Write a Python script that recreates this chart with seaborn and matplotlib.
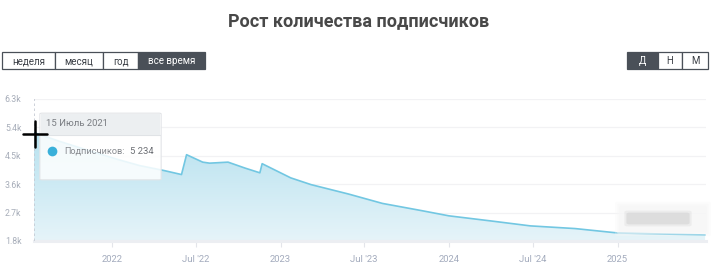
import numpy as np
import pandas as pd
import matplotlib
matplotlib.use("Agg")
import matplotlib.pyplot as plt
import matplotlib.dates as mdates
from matplotlib.patches import Rectangle, FancyBboxPatch
from matplotlib.lines import Line2D
import seaborn as sns

# ---------------- data ----------------
dates = ["2021-07-15", "2021-09-08", "2021-11-12", "2022-01-16", "2022-03-01",
         "2022-04-24", "2022-05-31", "2022-06-11", "2022-07-16", "2022-07-31",
         "2022-09-09", "2022-10-16", "2022-11-17", "2022-11-22", "2023-01-01",
         "2023-01-23", "2023-03-08", "2023-05-28", "2023-08-10", "2023-11-05",
         "2024-01-01", "2024-03-31", "2024-06-26", "2024-10-01", "2025-01-01",
         "2025-07-10"]
subscribers = [5234, 4960, 4660, 4370, 4190,
               4030, 3906, 4535, 4299, 4267,
               4299, 4110, 3961, 4250, 3960,
               3801, 3587, 3290, 2991, 2757,
               2598, 2438, 2279, 2194, 2055,
               1991]
y_ticks = [1800, 2700, 3600, 4500, 5400, 6300]
y_tick_labels = ["1.8k", "2.7k", "3.6k", "4.5k", "5.4k", "6.3k"]
x_ticks = ["2022-01-01", "2022-07-01", "2023-01-01", "2023-07-01",
           "2024-01-01", "2024-07-01", "2025-01-01"]
x_tick_labels = ["2022", "Jul '22", "2023", "Jul '23", "2024", "Jul '24", "2025"]
title = "Рост количества подписчиков"
range_buttons = ["неделя", "месяц", "год", "все время"]
period_buttons = ["Д", "Н", "М"]
tooltip_date = "15 Июль 2021"
tooltip_label = "Подписчиков:"
tooltip_value = "5 234"

df = pd.DataFrame({"date": pd.to_datetime(dates), "value": subscribers})

# ---------------- figure ----------------
sns.set_theme(style="white")
FONT = ["Roboto", "DejaVu Sans"]
plt.rcParams["font.family"] = FONT

W, H = 717, 278
fig = plt.figure(figsize=(W / 100, H / 100), dpi=100)
fig.patch.set_facecolor("white")

def fx(x):
    return x / W

def fy(y):
    return 1 - y / H

ax_left, ax_right, ax_top, ax_bottom = 34, 706, 99, 241
ax = fig.add_axes([fx(ax_left), fy(ax_bottom), (ax_right - ax_left) / W, (ax_bottom - ax_top) / H])
ax.set_facecolor("white")

x0 = pd.Timestamp("2021-07-15")
x1 = pd.Timestamp("2025-07-12")
ymin, ymax = 1800, 6300
ax.set_xlim(x0, x1)
ax.set_ylim(ymin, ymax)

# gridlines
for v in y_ticks[1:]:
    ax.axhline(v, color="#f2f2f4", lw=0.9, zorder=0)

# gradient fill under line
poly = ax.fill_between(df["date"], df["value"], ymin, color="none", lw=0)
grad = np.linspace(0, 1, 256).reshape(-1, 1)
top_c = np.array(matplotlib.colors.to_rgb("#b6e1ef"))
bot_c = np.array(matplotlib.colors.to_rgb("#e6f4f9"))
img = top_c[None, None, :] * (1 - grad[:, :, None]) + bot_c[None, None, :] * grad[:, :, None]
im = ax.imshow(img, extent=[mdates.date2num(x0), mdates.date2num(x1), ymin, 5300],
               aspect="auto", origin="upper", zorder=1)
im.set_clip_path(poly.get_paths()[0], transform=ax.transData)

sns.lineplot(data=df, x="date", y="value", ax=ax, color="#72c7e2", lw=1.2, zorder=3)

# axes styling
for s in ["top", "right", "left"]:
    ax.spines[s].set_visible(False)
ax.spines["bottom"].set_color("#eceef2")
ax.spines["bottom"].set_linewidth(2.2)
ax.set_xlabel("")
ax.set_ylabel("")
ax.set_yticks(y_ticks)
ax.set_yticklabels(y_tick_labels)
ax.set_xticks(pd.to_datetime(x_ticks))
ax.set_xticklabels(x_tick_labels)
ax.tick_params(axis="y", length=0, pad=9, labelsize=6.3, labelcolor="#a7adb9")
ax.tick_params(axis="x", length=4, width=0.8, color="#e3e5ea", pad=6,
               labelsize=6.8, labelcolor="#a3abbd", direction="out", bottom=True)

# dotted vertical at start
ax.axvline(x0, color="#c5cad3", lw=1.2, ls=(0, (1.5, 1.5)), zorder=4)

# ---------------- title ----------------
fig.text(0.5, fy(21), title, ha="center", va="center", fontsize=13,
         fontweight="bold", color="#484848", family=FONT)

# ---------------- buttons ----------------
def button_row(x_edges, labels, active, y_top=52, y_bot=69):
    for i, lab in enumerate(labels):
        xa, xb = x_edges[i], x_edges[i + 1]
        is_act = (i == active)
        fig.patches.append(Rectangle((fx(xa), fy(y_bot)), (xb - xa) / W, (y_bot - y_top) / H,
                                     transform=fig.transFigure, facecolor="#4a5058" if is_act else "white",
                                     edgecolor="#4a5058", lw=0.9, zorder=5))
        fig.text(fx((xa + xb) / 2), fy((y_top + y_bot) / 2 + 0.5), lab, ha="center", va="center",
                 fontsize=7, color="white" if is_act else "#3c4047", family=FONT, zorder=6)

button_row([2, 55, 103, 138, 205], range_buttons, 3)
button_row([627, 658, 682, 708], period_buttons, 0)

# ---------------- tooltip ----------------
tx0, tx1, ty0, ty1 = 40, 161, 112, 181
fig.patches.append(FancyBboxPatch((fx(tx0 + 2), fy(ty1 - 2)), (tx1 - tx0 - 4) / W, (ty1 - ty0 - 4) / H,
                                  boxstyle="round,pad=0.003", transform=fig.transFigure,
                                  facecolor=(1, 1, 1, 0.85), edgecolor="#e2e4e7", lw=0.8, zorder=7))
fig.patches.append(Rectangle((fx(tx0 + 1), fy(135)), (tx1 - tx0 - 2) / W, (135 - ty0 - 1.5) / H,
                             transform=fig.transFigure, facecolor="#eceff1", edgecolor="none", zorder=8))
fig.add_artist(Line2D([fx(tx0 + 1), fx(tx1 - 1)], [fy(135), fy(135)], color="#e0e3e6", lw=0.8, zorder=8))
fig.text(fx(46), fy(124), tooltip_date, ha="left", va="center", fontsize=6.8, color="#7a7d82",
         family=FONT, zorder=9)
fig.add_artist(Line2D([fx(52)], [fy(151)], marker="o", ms=7, mfc="#39b0da", mec="none",
                      ls="none", zorder=9))
fig.text(fx(64), fy(151), tooltip_label, ha="left", va="center", fontsize=6.6, color="#85888d",
         family=FONT, zorder=9)
fig.text(fx(130), fy(151), tooltip_value, ha="left", va="center", fontsize=6.8, color="#6d7075",
         family=FONT, zorder=9)

# cursor crosshair
fig.add_artist(Line2D([fx(23), fx(47)], [fy(134), fy(134)], color="black", lw=1.8, zorder=10))
fig.add_artist(Line2D([fx(35), fx(35)], [fy(121), fy(147)], color="black", lw=1.8, zorder=10))

# blurred watermark box
for pad, a in [(4, 0.3), (2, 0.45), (0, 0.6)]:
    fig.patches.append(FancyBboxPatch((fx(622 - pad), fy(231 + pad)), (82 + 2 * pad) / W, (24 + 2 * pad) / H,
                                      boxstyle="round,pad=0.004", transform=fig.transFigure,
                                      facecolor=(0.97, 0.97, 0.97, a), edgecolor="none", zorder=6))
for pad, a in [(2, 0.25), (0, 0.45)]:
    fig.patches.append(FancyBboxPatch((fx(630 - pad), fy(223 + pad)), (56 + 2 * pad) / W, (9 + 2 * pad) / H,
                                      boxstyle="round,pad=0.005", transform=fig.transFigure,
                                      facecolor=(0.8, 0.8, 0.8, a), edgecolor="none", zorder=6))

fig.savefig("out.png", dpi=100, facecolor="white")
